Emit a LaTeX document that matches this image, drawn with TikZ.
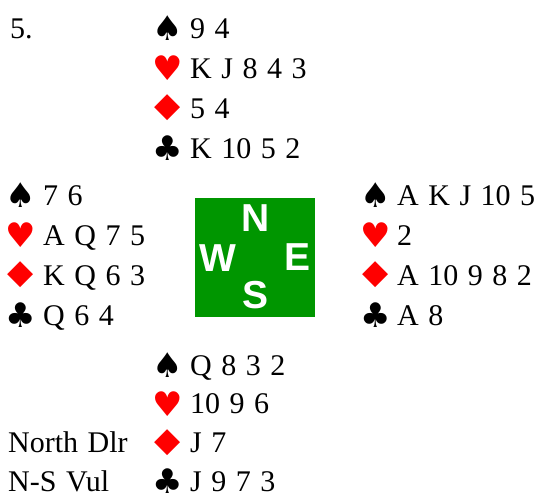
\documentclass[tikz,border=0pt]{standalone}
\usepackage{fontspec}
\setmainfont{Liberation Serif}
\newfontfamily\suitfont{DejaVu Sans}
\newfontfamily\compassfont{Liberation Sans}
\usepackage{xcolor}
\usepackage{tikz}
\usetikzlibrary{positioning}

\definecolor{tablegreen}{RGB}{0,150,0}
\definecolor{suitred}{RGB}{255,0,0}
\newcommand{\widespaces}{\spaceskip=9.5pt\relax}

\begin{document}
\begin{tikzpicture}[x=1pt, y=-1pt,
    cards/.style={anchor=base west, inner sep=0pt,
      font=\fontsize{30}{36}\selectfont, execute at begin node=\widespaces},
    suitsym/.style={anchor=center, inner sep=0pt, font=\suitfont\fontsize{34}{36}\selectfont},
    compass/.style={text=white, inner sep=0pt, font=\compassfont\bfseries\fontsize{39}{40}\selectfont}]
  \useasboundingbox (0,0) rectangle (539,496);

  % ── Board number ──
  \node[cards] (board) at (10,38) {5.};

  % ── North ──
  \foreach \i/\sym/\col/\holding in
      {0/♠/black/{9 4}, 1/♥/suitred/{K J 8 4 3},
       2/◆/suitred/{5 4}, 3/♣/black/{K 10 5 2}} {
    \pgfmathsetmacro{\yb}{38 + \i*40}
    \node[suitsym, text=\col] (north-s\i) at (168, \yb-10) {\sym};
    \node[cards] (north-c\i) at (190, \yb) {\holding};
  }

  % ── West ──
  \foreach \i/\sym/\col/\holding in
      {0/♠/black/{7 6}, 1/♥/suitred/{A Q 7 5},
       2/◆/suitred/{K Q 6 3}, 3/♣/black/{Q 6 4}} {
    \pgfmathsetmacro{\yb}{205 + \i*40}
    \node[suitsym, text=\col] (west-s\i) at (21, \yb-10) {\sym};
    \node[cards] (west-c\i) at (43, \yb) {\holding};
  }

  % ── East ──
  \foreach \i/\sym/\col/\holding in
      {0/♠/black/{A K J 10 5}, 1/♥/suitred/{2},
       2/◆/suitred/{A 10 9 8 2}, 3/♣/black/{A 8}} {
    \pgfmathsetmacro{\yb}{205 + \i*40}
    \node[suitsym, text=\col] (east-s\i) at (376, \yb-10) {\sym};
    \node[cards] (east-c\i) at (397, \yb) {\holding};
  }

  % ── South ──
  \foreach \i/\sym/\col/\holding in
      {0/♠/black/{Q 8 3 2}, 1/♥/suitred/{10 9 6},
       2/◆/suitred/{J 7}, 3/♣/black/{J 9 7 3}} {
    \pgfmathsetmacro{\yb}{375 + \i*38.7}
    \node[suitsym, text=\col] (south-s\i) at (168, \yb-10) {\sym};
    \node[cards] (south-c\i) at (190, \yb) {\holding};
  }

  % ── Compass table ──
  \node[fill=tablegreen, minimum width=120pt, minimum height=119pt, inner sep=0pt]
    (table) at (255,257.5) {};
  \node[compass] (table-n) at (256,218) {N};
  \node[compass] (table-w) at (218,258) {W};
  \node[compass] (table-e) at (298,257) {E};
  \node[compass] (table-s) at (256,295) {S};

  % Dealer and vulnerability
  \node[cards] (dealer) at (8,452) {North Dlr};
  \node[cards] (vul) at (8,491) {N-S Vul};
\end{tikzpicture}
\end{document}
